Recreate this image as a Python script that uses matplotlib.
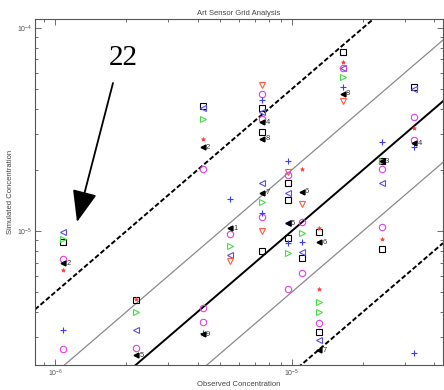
import matplotlib
matplotlib.use("Agg")
import matplotlib.pyplot as plt
from matplotlib.ticker import LogLocator, NullFormatter
import numpy as np

plt.rcParams['font.family'] = ['Liberation Sans', 'DejaVu Sans']

title = "Art Sensor Grid Analysis"
xlabel = "Observed Concentration"
ylabel = "Simulated Concentration"

# observed concentration columns
xA, xB, xC, xJ, xD, xH = 1.08e-6, 2.2e-6, 4.2e-6, 5.5e-6, 7.5e-6, 9.6e-6
xI, xK, xE, xG, xF = 1.1e-5, 1.3e-5, 1.64e-5, 2.4e-5, 3.3e-5

sq_x = [xA, xB, xC, xD, xD, xD, xH, xH, xH, xI, xK, xK, xE, xG, xG, xF]
sq_y = [8.8e-6, 4.57e-6, 4.13e-5, 4.04e-5, 3.07e-5, 8.0e-6, 1.72e-5, 1.42e-5, 9.2e-6,
        7.4e-6, 9.9e-6, 3.2e-6, 7.62e-5, 2.21e-5, 8.2e-6, 5.12e-5]

tl_x = [xA, xB, xC, xJ, xD, xD, xH, xH, xI, xK, xE, xG, xF]
tl_y = [9.9e-6, 3.25e-6, 4.04e-5, 7.6e-6, 3.86e-5, 1.72e-5, 1.54e-5, 1.09e-5, 7.9e-6,
        2.91e-6, 6.36e-5, 1.72e-5, 5.0e-5]

tr_x = [xA, xB, xC, xJ, xD, xH, xI, xK, xK, xE, xG]
tr_y = [9.1e-6, 3.99e-6, 3.56e-5, 8.4e-6, 1.39e-5, 7.8e-6, 9.8e-6, 4.47e-6, 3.99e-6,
        5.74e-5, 2.21e-5]

td_x = [xJ, xD, xD, xH, xI, xE]
td_y = [7.1e-6, 5.24e-5, 1.0e-5, 1.95e-5, 1.36e-5, 4.37e-5]

ci_x = [xA, xA, xB, xC, xC, xC, xJ, xD, xD, xD, xH, xH, xI, xI, xK, xE, xG, xG, xF, xF]
ci_y = [7.3e-6, 2.62e-6, 2.65e-6, 2.02e-5, 4.18e-6, 3.56e-6, 9.7e-6, 4.73e-5, 3.56e-5,
        1.17e-5, 1.89e-5, 5.2e-6, 1.11e-5, 6.2e-6, 3.52e-6, 6.36e-5, 2.02e-5, 1.05e-5,
        3.65e-5, 2.81e-5]

pl_x = [xA, xC, xJ, xD, xD, xH, xH, xI, xE, xG, xF, xF]
pl_y = [3.25e-6, 3.15e-6, 1.44e-5, 4.42e-5, 1.23e-5, 2.21e-5, 8.7e-6, 8.8e-6, 5.12e-5,
        2.74e-5, 2.59e-5, 2.51e-6]

st_x = [xA, xB, xC, xI, xK, xK, xE, xG, xF]
st_y = [6.4e-6, 4.65e-6, 2.84e-5, 2.02e-5, 1.03e-5, 5.2e-6, 6.81e-5, 9.1e-6, 3.22e-5]

lab_x = [xA, xB, xC, xC, xJ, xD, xD, xD, xH, xI, xK, xK, xE, xG, xF]
lab_y = [6.95e-6, 2.45e-6, 2.59e-5, 3.1e-6, 1.03e-5, 3.44e-5, 2.84e-5, 1.54e-5, 1.09e-5,
         1.56e-5, 8.8e-6, 2.59e-6, 4.73e-5, 2.21e-5, 2.71e-5]
lab_t = ["2", "5", "2", "9", "1", "4", "8", "7", "5", "6", "6", "7", "8", "3", "4"]

line_factors = [1, 2, 0.5, 5, 0.2]
xlim = (8.22e-7, 4.36e-5)
ylim = (2.19e-6, 1.107e-4)

fig = plt.figure(figsize=(4.44, 3.90), dpi=100)
ax = fig.add_axes([35/444, 25/390, 408/444, 346/390])
ax.set_xscale('log')
ax.set_yscale('log')
ax.set_xlim(*xlim)
ax.set_ylim(*ylim)

xl = np.array(xlim)
for f in line_factors:
    if f == 1:
        ax.plot(xl, xl*f, color='black', lw=1.4, zorder=2)
    elif f in (2, 0.5):
        ax.plot(xl, xl*f, color='#8a8a8a', lw=0.9, zorder=2)
    else:
        ax.plot(xl, xl*f, color='black', lw=1.4, ls=(0, (2.5, 1.2)), zorder=2)

ms = 4.6
mw = 0.8
ax.plot(sq_x, sq_y, ls='none', marker='s', mfc='none', mec='black', ms=ms, mew=mw, zorder=3)
ax.plot(tl_x, tl_y, ls='none', marker='<', mfc='none', mec='#5a50e0', ms=ms, mew=mw, zorder=3)
ax.plot(tr_x, tr_y, ls='none', marker='>', mfc='none', mec='#46dc46', ms=ms, mew=mw, zorder=3)
ax.plot(td_x, td_y, ls='none', marker='v', mfc='none', mec='#ff5a46', ms=ms, mew=mw, zorder=3)
ax.plot(ci_x, ci_y, ls='none', marker='o', mfc='none', mec='#e040e0', ms=ms, mew=mw, zorder=3)
ax.plot(pl_x, pl_y, ls='none', marker='+', color='#3c3cff', ms=ms, mew=mw, zorder=3)
ax.plot(st_x, st_y, ls='none', marker='*', color='#ff4040', ms=3, mew=0.5, zorder=3)
ax.plot(lab_x, lab_y, ls='none', marker='<', color='black', ms=3.5, zorder=4)
for x, y, t in zip(lab_x, lab_y, lab_t):
    ax.annotate(t, (x, y), xytext=(2.5, 0), textcoords='offset points',
                fontsize=5.5, va='center', ha='left', color='#333333', zorder=5)

ax.xaxis.set_major_locator(LogLocator(base=10))
ax.yaxis.set_major_locator(LogLocator(base=10))
ax.xaxis.set_minor_locator(LogLocator(base=10, subs=np.arange(2, 10)))
ax.yaxis.set_minor_locator(LogLocator(base=10, subs=np.arange(2, 10)))
ax.xaxis.set_minor_formatter(NullFormatter())
ax.yaxis.set_minor_formatter(NullFormatter())
ax.tick_params(which='both', direction='in', top=True, right=True, colors='#555555',
               labelsize=5, width=0.6)
ax.tick_params(which='major', length=4, pad=2)
ax.tick_params(which='minor', length=2)
for s in ax.spines.values():
    s.set_color('#555555')
    s.set_linewidth(0.8)

ax.set_title(title, fontsize=5.5, color='#444444', pad=3)
ax.set_xlabel(xlabel, fontsize=5.5, color='#444444', labelpad=1.5)
ax.set_ylabel(ylabel, fontsize=5.5, color='#444444', labelpad=2)

fig.text(123/444, 1-65/390, "22", fontsize=21, family='Liberation Serif',
         ha='center', va='baseline', color='black')
ax.annotate('', xy=(77/444, 1-222/390), xytext=(113/444, 1-83/390),
            xycoords='figure fraction', textcoords='figure fraction',
            arrowprops=dict(arrowstyle='-|>,head_length=1.4,head_width=0.55',
                            color='black', lw=1.3, mutation_scale=14, shrinkA=0, shrinkB=0),
            annotation_clip=False)

fig.savefig('out.png', dpi=100)
